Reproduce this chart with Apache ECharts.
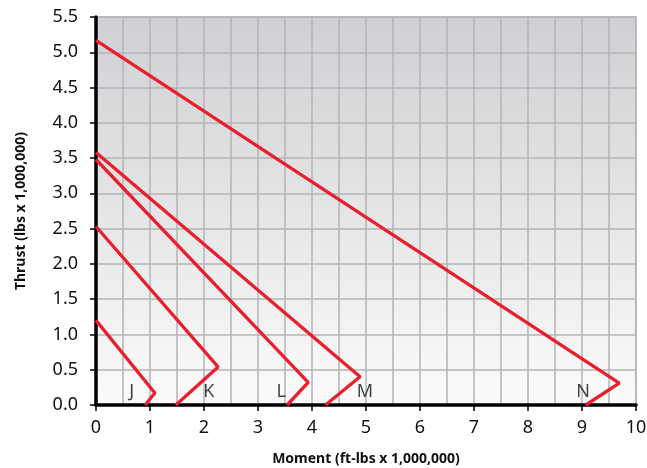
<!DOCTYPE html>
<html><head><meta charset="utf-8">
<script src="https://cdn.jsdelivr.net/npm/echarts@6/dist/echarts.min.js"></script>
<style>html,body{margin:0;padding:0;background:#fff}#c{width:647px;height:468px}</style>
</head><body><div id="c"></div>
<script>
var curveNames = ['J','K','L','M','N'];
var curveJ = [[0,1.20],[1.09,0.17],[0.91,0]];
var curveK = [[0,2.53],[2.26,0.54],[1.48,0]];
var curveL = [[0,3.48],[3.93,0.32],[3.54,0]];
var curveM = [[0,3.58],[4.89,0.40],[4.25,0]];
var curveN = [[0,5.17],[9.69,0.31],[9.07,0]];
var labelPos = [[0.66,0.18],[2.09,0.18],[3.43,0.18],[4.98,0.18],[9.02,0.18]];
var xTicks = [0,1,2,3,4,5,6,7,8,9,10];
var yTicks = [0,0.5,1,1.5,2,2.5,3,3.5,4,4.5,5,5.5];

var curves = [curveJ,curveK,curveL,curveM,curveN];
var red = '#e8202e';
var font = 'Noto Sans';
var series = curves.map(function(d,i){
  return {type:'line', name:curveNames[i], data:d, symbol:'none', lineStyle:{color:red,width:3.3}, z:3};
});
series.push({
  type:'scatter', symbolSize:0,
  data: labelPos.map(function(p,i){return {value:p, name:curveNames[i]};}),
  label:{show:true, position:'inside', formatter:function(p){return p.name;}, color:'#111', fontSize:18, fontFamily:font},
  z:4
});
var chart = echarts.init(document.getElementById('c'));
chart.setOption({
  animation:false,
  grid:{left:96,right:11,top:17,bottom:63,show:true,borderWidth:1.5,borderColor:'#b8b8b8',
    outerBoundsMode:'none', containLabel:false,
    backgroundColor:new echarts.graphic.LinearGradient(0,0,0,1,[{offset:0,color:'#cfd0d3'},{offset:1,color:'#fbfbfb'}])},
  xAxis:{type:'value',min:0,max:10,interval:1,
    name:'Moment (ft-lbs x 1,000,000)',nameLocation:'middle',nameGap:47,
    nameTextStyle:{fontFamily:font,fontWeight:'bold',fontSize:14,color:'#111'},
    axisLine:{lineStyle:{color:'#000',width:3.5}},
    axisTick:{show:true,length:6,lineStyle:{color:'#000',width:1.5}},
    axisLabel:{fontFamily:font,fontSize:18,color:'#111',margin:14,
      formatter:function(v){return xTicks.indexOf(v)>=0?String(v):'';}},
    splitLine:{show:true,lineStyle:{color:'#b4b4b6',width:1.5}},
    minorTick:{show:false,splitNumber:2},
    minorSplitLine:{show:true,lineStyle:{color:'#b4b4b6',width:1.5}}
  },
  yAxis:{type:'value',min:0,max:5.5,interval:0.5,
    name:'Thrust (lbs x 1,000,000)',nameLocation:'middle',nameGap:68,nameRotate:90,
    nameTextStyle:{fontFamily:font,fontWeight:'bold',fontSize:14,color:'#111'},
    axisLine:{show:true,lineStyle:{color:'#000',width:3.5}},
    axisTick:{show:true,length:6,lineStyle:{color:'#000',width:1.5}},
    axisLabel:{fontFamily:font,fontSize:18,color:'#111',margin:18,
      formatter:function(v){return yTicks.indexOf(v)>=0?v.toFixed(1):'';}},
    splitLine:{show:true,lineStyle:{color:'#b4b4b6',width:1.5}}
  },
  series:series
});
</script></body></html>
